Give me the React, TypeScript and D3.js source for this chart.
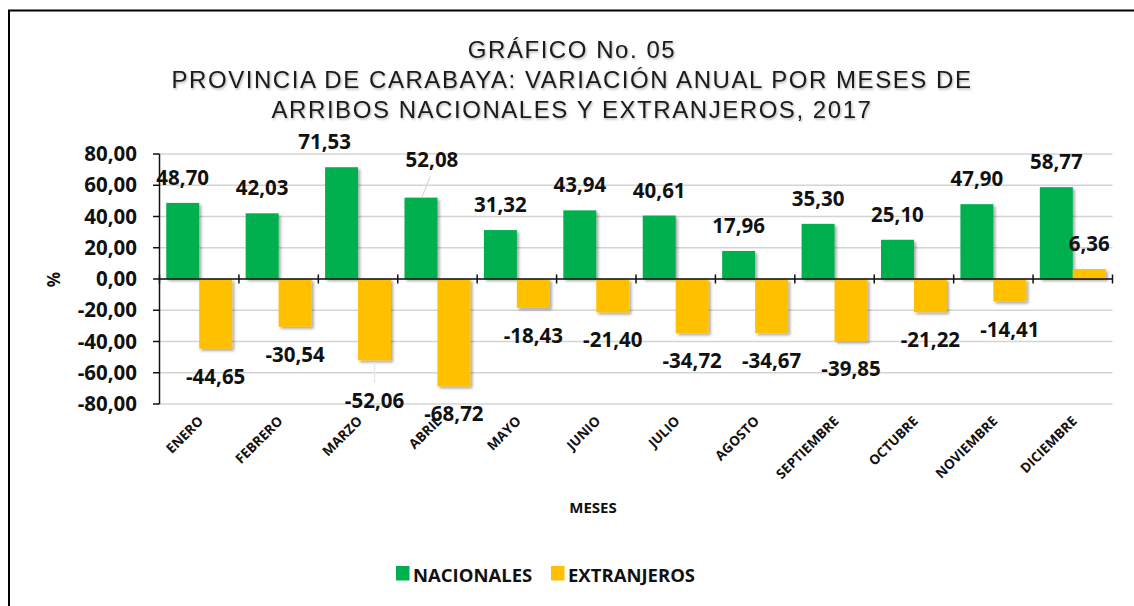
import React from 'react';
import * as d3 from 'd3';

const months = ['ENERO', 'FEBRERO', 'MARZO', 'ABRIL', 'MAYO', 'JUNIO', 'JULIO', 'AGOSTO', 'SEPTIEMBRE', 'OCTUBRE', 'NOVIEMBRE', 'DICIEMBRE'];
const nacionales = [48.70, 42.03, 71.53, 52.08, 31.32, 43.94, 40.61, 17.96, 35.30, 25.10, 47.90, 58.77];
const extranjeros = [-44.65, -30.54, -52.06, -68.72, -18.43, -21.40, -34.72, -34.67, -39.85, -21.22, -14.41, 6.36];
const yTicks = [-80, -60, -40, -20, 0, 20, 40, 60, 80];
const titleLines = ['GRÁFICO No. 05', 'PROVINCIA DE CARABAYA: VARIACIÓN ANUAL POR MESES DE', 'ARRIBOS NACIONALES Y EXTRANJEROS, 2017'];

const GREEN = '#00B050';
const YELLOW = '#FFC000';
const W = 1134;
const H = 606;
const labelFont = "'Open Sans', 'Liberation Sans', sans-serif";

// labels that were dragged by hand in the original (index -> offset)
const moved: Record<string, { dx: number; dy: number }> = {
  'nac-2': { dx: -17, dy: 0 },
  'nac-3': { dx: 11, dy: -13 },
  'ext-2': { dx: 0, dy: 13 },
};

const fmt = (v: number) => v.toFixed(2).replace('.', ',');

export default function App() {
  const x = d3.scaleBand<string>().domain(months).range([159.5, 1112.5]).paddingInner(0.17).paddingOuter(0.085);
  const sub = d3.scaleBand<string>().domain(['nac', 'ext']).range([0, x.bandwidth()]);
  const y = d3.scaleLinear().domain([-80, 80]).range([404, 154]);
  const step = x.step();
  const left = x.range()[0];
  const right = x.range()[1];

  const series = [
    { key: 'nac', values: nacionales, color: GREEN },
    { key: 'ext', values: extranjeros, color: YELLOW },
  ];

  return (
    <svg width={W} height={H} style={{ position: 'fixed', left: 0, top: 0, background: '#fff' }}>
      <defs>
        <filter id="barShadow" x="-20%" y="-20%" width="150%" height="150%">
          <feDropShadow dx="2" dy="2" stdDeviation="1.8" floodColor="#000" floodOpacity="0.35" />
        </filter>
        <filter id="txtShadow" x="-5%" y="-20%" width="110%" height="150%">
          <feDropShadow dx="1" dy="1.5" stdDeviation="1.2" floodColor="#000" floodOpacity="0.3" />
        </filter>
      </defs>

      <rect x={9} y={10.5} width={1140} height={620} fill="none" stroke="#000" strokeWidth={2} />

      {/* title */}
      <g filter="url(#txtShadow)">
        {titleLines.map((t, i) => (
          <text key={i} x={572} y={58 + i * 30} textAnchor="middle" fontFamily="'Liberation Sans', Arial, sans-serif"
            fontSize={24} letterSpacing={1.55} fill="#1a1a1a">{t}</text>
        ))}
      </g>

      {/* gridlines */}
      {yTicks.map(t => (
        <line key={t} x1={left} x2={right} y1={y(t)} y2={y(t)} stroke="#d4d4d4" strokeWidth={1.5} />
      ))}

      {/* bars */}
      {series.map(s => (
        <g key={s.key} filter="url(#barShadow)">
          {s.values.map((v, i) => (
            <rect key={i} x={(x(months[i]) ?? 0) + (sub(s.key) ?? 0)} width={sub.bandwidth()}
              y={y(Math.max(0, v))} height={Math.abs(y(v) - y(0))} fill={s.color} />
          ))}
        </g>
      ))}

      {/* leader lines of moved labels */}
      <line x1={430} y1={177} x2={422} y2={197} stroke="#d9d9d9" strokeWidth={1.2} />
      <line x1={374.5} y1={362} x2={374.5} y2={383} stroke="#e8e8e8" strokeWidth={1.5} />

      {/* axes */}
      <line x1={left} x2={left} y1={y(80)} y2={y(-80)} stroke="#111" strokeWidth={1.5} />
      {yTicks.map(t => (
        <g key={t}>
          <line x1={left - 6.5} x2={left} y1={y(t)} y2={y(t)} stroke="#111" strokeWidth={1.5} />
          <text x={137} y={y(t)} dy="0.35em" textAnchor="end" fontFamily={labelFont} fontWeight={700}
            fontSize={20.5} fill="#111">{fmt(t)}</text>
        </g>
      ))}
      <line x1={left} x2={right} y1={y(0)} y2={y(0)} stroke="#111" strokeWidth={1.5} />
      {d3.range(months.length + 1).map(i => (
        <line key={i} x1={left + i * step} x2={left + i * step} y1={y(0) - 4.5} y2={y(0) + 4.5} stroke="#111" strokeWidth={1.5} />
      ))}

      {/* data labels */}
      {series.map(s => s.values.map((v, i) => {
        const m = moved[`${s.key}-${i}`] ?? { dx: 0, dy: 0 };
        const cx = (x(months[i]) ?? 0) + (sub(s.key) ?? 0) + sub.bandwidth() / 2 + m.dx;
        const ty = v >= 0 ? y(v) - 18 : y(v) + 35;
        return (
          <text key={`${s.key}-${i}`} x={cx} y={ty + m.dy} textAnchor="middle" fontFamily={labelFont}
            fontWeight={700} fontSize={20.5} fill="#111">{fmt(v)}</text>
        );
      }))}

      {/* month labels */}
      {months.map(mo => (
        <text key={mo} transform={`translate(${(x(mo) ?? 0) + x.bandwidth() / 2 + 5},${422}) rotate(-45)`}
          textAnchor="end" fontFamily={labelFont} fontWeight={700} fontSize={13.5} fill="#111">{mo}</text>
      ))}

      <text x={593} y={513} textAnchor="middle" fontFamily={labelFont} fontWeight={700} fontSize={15} fill="#111">MESES</text>
      <text transform="translate(60,279.5) rotate(-90)" textAnchor="middle" fontFamily={labelFont} fontWeight={700}
        fontSize={17} fill="#111">%</text>

      {/* legend */}
      {[{ name: 'NACIONALES', color: GREEN, x0: 396 }, { name: 'EXTRANJEROS', color: YELLOW, x0: 551 }].map(l => (
        <g key={l.name}>
          <rect x={l.x0} y={566} width={13.5} height={14.5} fill={l.color} />
          <text x={l.x0 + 17} y={581.5} fontFamily={labelFont} fontWeight={700} fontSize={18.5} fill="#111">{l.name}</text>
        </g>
      ))}
    </svg>
  );
}
